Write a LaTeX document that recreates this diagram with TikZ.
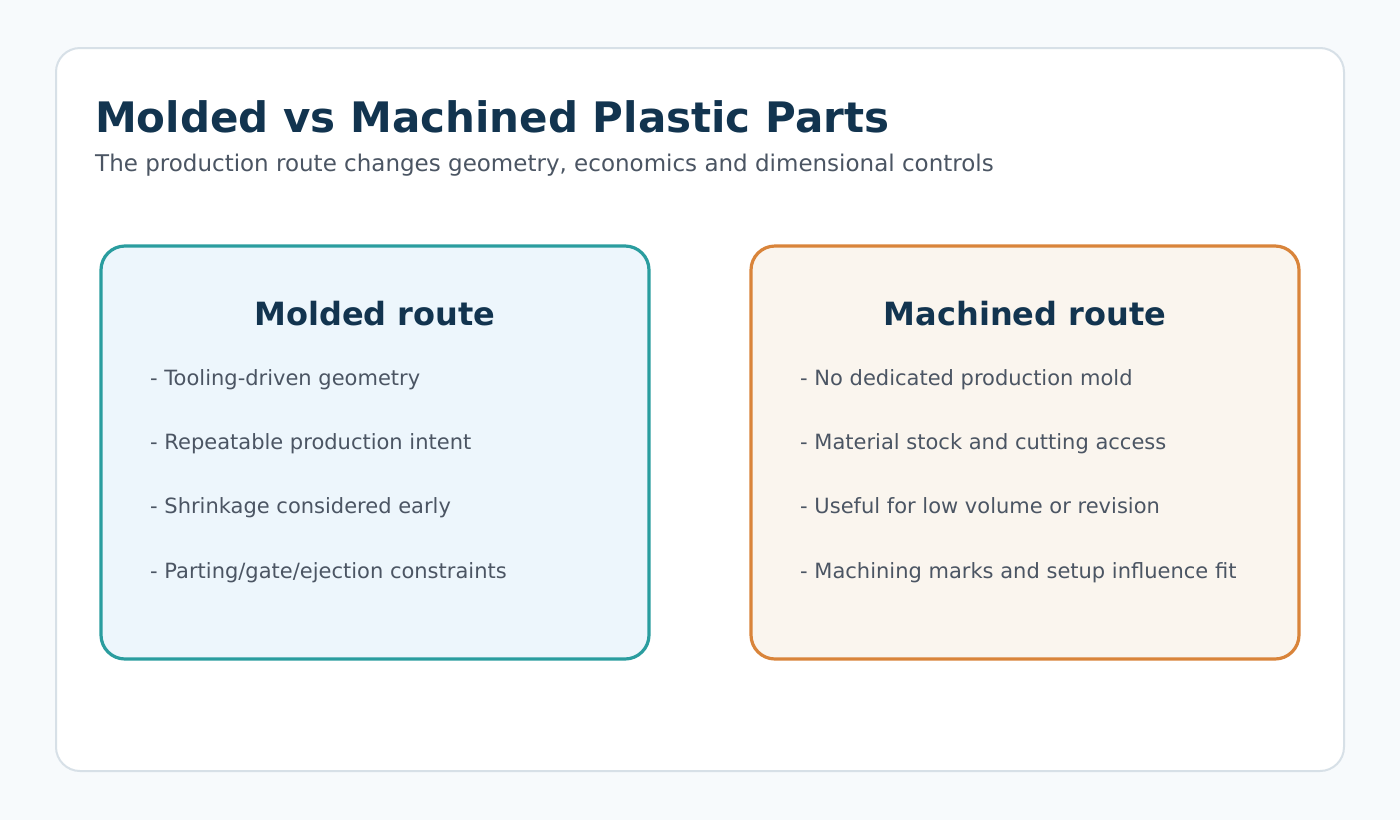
\documentclass[tikz,border=0pt]{standalone}
\usepackage{fontspec}
\setmainfont{DejaVu Sans}
\usepackage{tikz}
\usetikzlibrary{positioning}

\definecolor{pagebg}{HTML}{F7FAFC}
\definecolor{cardline}{HTML}{D7E0E7}
\definecolor{navy}{HTML}{12344F}
\definecolor{slate}{HTML}{4B5563}
\definecolor{tealline}{HTML}{2A9D9F}
\definecolor{tealfill}{HTML}{EDF6FC}
\definecolor{orangeline}{HTML}{D9843A}
\definecolor{orangefill}{HTML}{FAF5EE}

\begin{document}
\begin{tikzpicture}[x=1pt,y=1pt,
routebox/.style={rectangle,rounded corners=24pt,line width=3.2pt,minimum width=548pt,minimum height=413pt,inner sep=0pt},
routetitle/.style={font=\fontsize{32}{38}\selectfont\bfseries,text=navy,inner sep=0pt,anchor=base},
item/.style={font=\fontsize{21}{25}\selectfont,text=slate,inner sep=0pt,text height=15pt,text depth=5pt,anchor=base west}]
\useasboundingbox (0,0) rectangle (1400,-820);
\fill[pagebg] (0,0) rectangle (1400,-820);
\node (card) [rectangle,rounded corners=24pt,draw=cardline,line width=2pt,fill=white,
    minimum width=1288pt,minimum height=723pt] at (700,-409.5) {};

\node (title) [anchor=base west,inner sep=0pt,text=navy,font=\fontsize{42}{50}\selectfont\bfseries]
    at (95,-132) {Molded vs Machined Plastic Parts};
\node (subtitle) [anchor=base west,inner sep=0pt,text=slate,font=\fontsize{23}{27}\selectfont]
    at (95,-171) {The production route changes geometry, economics and dimensional controls};

% molded side
\node (molded) [routebox,draw=tealline,fill=tealfill] at (375,-452.5) {};
\node (moldedtitle) [routetitle] at (375,-325) {Molded route};
\node (m1) [item] at (150,-385) {- Tooling-driven geometry};
\node (m2) [item,below=44pt of m1.south west,anchor=north west] {- Repeatable production intent};
\node (m3) [item,below=44pt of m2.south west,anchor=north west] {- Shrinkage considered early};
\node (m4) [item,below=44pt of m3.south west,anchor=north west] {- Parting/gate/ejection constraints};

% machined side
\node (machined) [routebox,draw=orangeline,fill=orangefill] at (1025,-452.5) {};
\node (machinedtitle) [routetitle] at (1025,-325) {Machined route};
\node (c1) [item] at (800,-385) {- No dedicated production mold};
\node (c2) [item,below=44pt of c1.south west,anchor=north west] {- Material stock and cutting access};
\node (c3) [item,below=44pt of c2.south west,anchor=north west] {- Useful for low volume or revision};
\node (c4) [item,below=44pt of c3.south west,anchor=north west] {- Machining marks and setup influence fit};

\end{tikzpicture}
\end{document}
